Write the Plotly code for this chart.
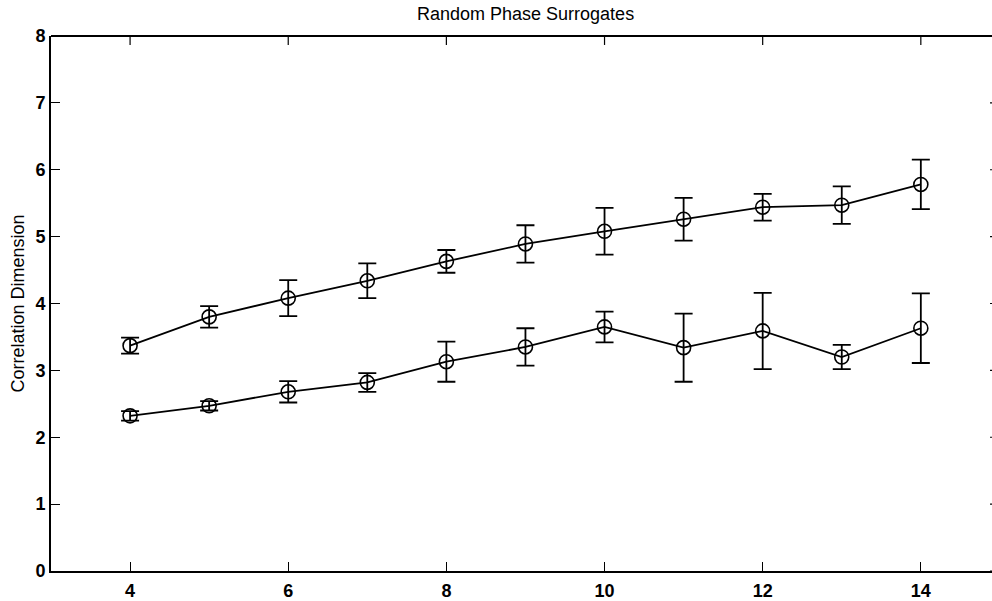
import plotly.graph_objects as go

# Embedding dimension
dims = [4, 5, 6, 7, 8, 9, 10, 11, 12, 13, 14]

# Upper curve: mean correlation dimension and error half-widths
upper_mean = [3.37, 3.80, 4.08, 4.34, 4.63, 4.89, 5.08, 5.26, 5.44, 5.47, 5.78]
upper_err = [0.12, 0.16, 0.27, 0.26, 0.17, 0.28, 0.35, 0.32, 0.20, 0.28, 0.37]

# Lower curve
lower_mean = [2.32, 2.47, 2.68, 2.82, 3.13, 3.35, 3.65, 3.34, 3.59, 3.20, 3.63]
lower_err = [0.07, 0.07, 0.16, 0.14, 0.30, 0.28, 0.23, 0.51, 0.57, 0.18, 0.52]

x_ticks = [4, 6, 8, 10, 12, 14]
y_ticks = [0, 1, 2, 3, 4, 5, 6, 7, 8]

FONT = "Liberation Sans, Arial, Helvetica, sans-serif"

fig = go.Figure()

for mean, err in [(upper_mean, upper_err), (lower_mean, lower_err)]:
    fig.add_trace(go.Scatter(
        x=dims, y=mean,
        mode="lines+markers",
        line=dict(color="black", width=1.8),
        marker=dict(symbol="circle-open", size=14, color="black",
                    line=dict(width=1.6, color="black")),
        error_y=dict(type="data", array=err, visible=True,
                     color="black", thickness=1.8, width=9),
        showlegend=False,
        cliponaxis=False,
    ))

# Top frame line with downward ticks
fig.add_shape(type="line", xref="paper", yref="paper", x0=0, x1=1, y0=1, y1=1,
              line=dict(color="black", width=2))
for v in x_ticks:
    fig.add_shape(type="line", xref="x", yref="paper", x0=v, x1=v,
                  y0=1, y1=1 - 9 / 537, line=dict(color="black", width=1.2))

# Stubs of the right-hand ticks at the edge of the canvas
for v in y_ticks:
    fig.add_shape(type="line", xref="x", yref="y", x0=14.875, x1=14.9,
                  y0=v, y1=v, line=dict(color="black", width=1.2))

fig.add_annotation(
    text="Random Phase Surrogates", xref="paper", yref="paper",
    x=(525 - 51) / 941, y=1, yanchor="middle", yshift=22, showarrow=False,
    font=dict(family=FONT, size=18, color="black"),
)

tick_font = dict(family=FONT, size=18, color="black", weight="bold")

fig.update_layout(
    width=992, height=601,
    margin=dict(l=51, r=0, t=36, b=28),
    paper_bgcolor="white", plot_bgcolor="white",
    xaxis=dict(
        range=[3, 14.9], tickvals=x_ticks, ticks="inside", ticklen=9,
        tickwidth=1.2, tickcolor="black", showline=True, linecolor="black",
        linewidth=2, showgrid=False, zeroline=False,
        tickfont=tick_font, ticklabelstandoff=2,
    ),
    yaxis=dict(
        range=[0, 8], tickvals=y_ticks, ticks="inside", ticklen=9,
        tickwidth=1.2, tickcolor="black", showline=True, linecolor="black",
        linewidth=2, showgrid=False, zeroline=False, tickfont=tick_font,
        ticklabelstandoff=0,
        title=dict(text="Correlation Dimension", standoff=6,
                   font=dict(family=FONT, size=18, color="black")),
    ),
)

fig.write_html("out.html")
